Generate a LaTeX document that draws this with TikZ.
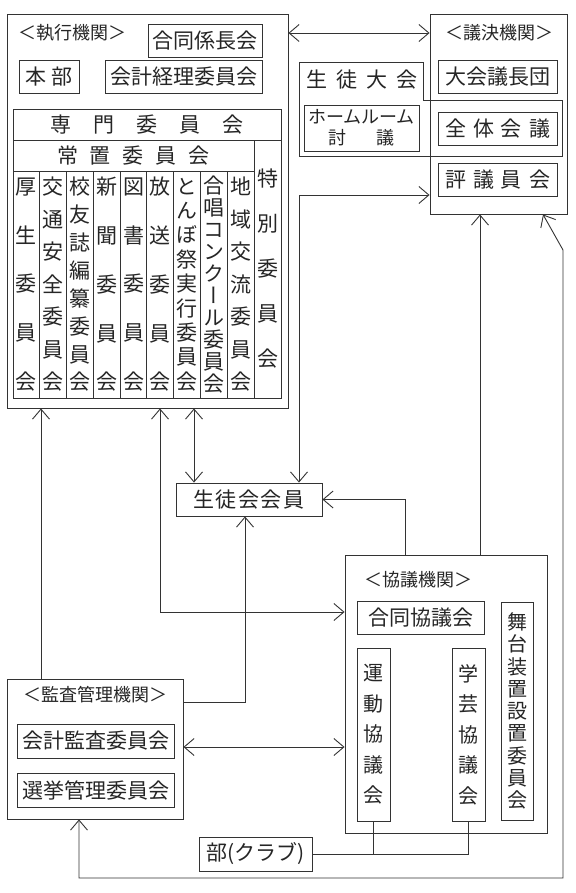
\documentclass[tikz,border=0pt]{standalone}
\usepackage{fontspec}
\newfontfamily\jp{Noto Sans CJK JP}
\newfontfamily\vjp[RawFeature=+vert]{Noto Sans CJK JP}
\usetikzlibrary{arrows.meta}
\begin{document}
\begin{tikzpicture}[x=1pt,y=-1pt,
  >={Straight Barb[length=10pt,width=17pt]},
  box/.style={draw=black!80,line width=0.9pt,inner sep=0pt,rectangle},
  txt/.style={font=\jp\fontsize{21}{25}\selectfont,text=black!85},
  ttl/.style={font=\jp\fontsize{18}{21}\selectfont,text=black!85},
  vt/.style={align=center,font=\vjp\fontsize{21}{#1}\selectfont,text=black!85},
  vs/.style={align=center,font=\vjp\fontsize{20}{#1}\selectfont,text=black!85},
  wire/.style={draw=black!80,line width=0.9pt}]
\useasboundingbox (0,0) rectangle (575,893);
\fill[white] (0,0) rectangle (575,893);

% ---- executive body
\node[box,minimum width=281,minimum height=394] (exec) at (147.5,211) {};
\node[ttl] (execT) at (72,33) {＜執行機関＞};
\node[box,txt,minimum width=114,minimum height=33] (kakari) at (205,40.5) {合同係長会};
\node[box,txt,minimum width=60,minimum height=33] (honbu) at (49,76.5) {本\hspace{6pt}部};
\node[box,txt,minimum width=157,minimum height=33] (keiri) at (183.5,76.5) {会計経理委員会};
\node[box,txt,minimum width=268,minimum height=31] (senmon) at (147,124.5) {専\hspace{22pt}門\hspace{22pt}委\hspace{22pt}員\hspace{22pt}会};
\node[box,txt,minimum width=241,minimum height=31] (jouchi) at (133.5,155.5) {常\hspace{12pt}置\hspace{12pt}委\hspace{12pt}員\hspace{12pt}会};
\node[box,vt=45,minimum width=27,minimum height=258] (tokubetsu) at (267.5,269) {特\\別\\委\\員\\会};
\node[box,vt=48.75,minimum width=26.78,minimum height=227] (c1) at (26.39,284.5) {厚\\生\\委\\員\\会};
\node[box,vt=32.5,minimum width=26.78,minimum height=227] (c2) at (53.17,284.5) {交\\通\\安\\全\\委\\員\\会};
\node[box,vt=27.86,minimum width=26.78,minimum height=227] (c3) at (79.94,284.5) {校\\友\\誌\\編\\纂\\委\\員\\会};
\node[box,vt=48.75,minimum width=26.78,minimum height=227] (c4) at (106.72,284.5) {新\\聞\\委\\員\\会};
\node[box,vt=48.75,minimum width=26.78,minimum height=227] (c5) at (133.5,284.5) {図\\書\\委\\員\\会};
\node[box,vt=48.75,minimum width=26.78,minimum height=227] (c6) at (160.28,284.5) {放\\送\\委\\員\\会};
\node[box,vt=24.4,minimum width=26.78,minimum height=227] (c7) at (187.06,284.5) {と\\ん\\ぼ\\祭\\実\\行\\委\\員\\会};
\node[box,vt=22,minimum width=26.78,minimum height=227] (c8) at (213.83,284.5) {合\\唱\\コ\\ン\\ク\\ー\\ル\\委\\員\\会};
\node[box,vt=32.5,minimum width=26.78,minimum height=227] (c9) at (240.61,284.5) {地\\域\\交\\流\\委\\員\\会};

% ---- resolution body
\node[box,minimum width=137,minimum height=200] (giketsu) at (498.5,114) {};
\node[ttl] (giketsuT) at (499,33) {＜議決機関＞};
\node[box,txt,minimum width=119,minimum height=33] (gichou) at (497.5,76.5) {大会議長団};
\node[box,txt,minimum width=119,minimum height=33] (zentai) at (497.5,128.5) {全\hspace{7pt}体\hspace{7pt}会\hspace{7pt}議};
\node[box,txt,minimum width=119,minimum height=33] (hyougi) at (497.5,179.5) {評\hspace{7pt}議\hspace{7pt}員\hspace{7pt}会};
\draw[wire] (299,62) -- (423,62) -- (423,100) -- (562,100) -- (562,156) -- (299,156) -- cycle;
\node[txt] (taikai) at (362,80) {生\hspace{9pt}徒\hspace{9pt}大\hspace{9pt}会};
\node[box,ttl,align=center,minimum width=115,minimum height=46] (hr) at (361.5,128) {ホームルーム\\討\hspace{30pt}議};

% ---- members
\node[box,txt,minimum width=146,minimum height=33] (member) at (249,499.5) {生\hspace{1.5pt}徒\hspace{1.5pt}会\hspace{1.5pt}会\hspace{1.5pt}員};

% ---- consultative body
\node[box,minimum width=202,minimum height=278] (kyougi) at (446,694) {};
\node[ttl] (kyougiT) at (418,580) {＜協議機関＞};
\node[box,txt,minimum width=127,minimum height=33] (goudou) at (420.5,617.5) {合同協議会};
\node[box,vs=30.5,minimum width=33,minimum height=173] (undou) at (373.5,734.5) {運\\動\\協\\議\\会};
\node[box,vs=30.5,minimum width=33,minimum height=173] (gakugei) at (468.5,734.5) {学\\芸\\協\\議\\会};
\node[box,vs=22.25,minimum width=32,minimum height=218] (butai) at (517,711) {舞\\台\\装\\置\\設\\置\\委\\員\\会};

% ---- audit body
\node[box,minimum width=176,minimum height=140] (audit) at (95,749) {};
\node[ttl] (auditT) at (95,695) {＜監査管理機関＞};
\node[box,txt,minimum width=157,minimum height=34] (kansa) at (95.5,741) {会計監査委員会};
\node[box,txt,minimum width=157,minimum height=34] (senkyo) at (95.5,790) {選挙管理委員会};

% ---- clubs
\node[box,txt,minimum width=113,minimum height=34] (bu) at (255.5,854) {部(クラブ)};

% ---- connectors
\coordinate (p2) at (299,195);
\coordinate (p3) at (194,0);
\coordinate (p4) at (405,0);
\coordinate (p5) at (160,612);
\coordinate (p6) at (245,702);
\coordinate (p7) at (41,0);
\coordinate (p8) at (0,747);
\coordinate (p9) at (480,0);
\coordinate (p10a) at (79,878);
\coordinate (p10b) at (563,878);
\coordinate (p10c) at (563,250);
\coordinate (p10d) at (543,0);

\draw[wire,<->] (exec.east |- execT) -- (giketsu.west |- execT);
\draw[wire,<->] (member.north -| p2) |- (giketsu.west |- p2);
\draw[wire,<->] (exec.south -| p3) -- (member.north -| p3);
\draw[wire,->] (kyougi.north -| p4) |- (member.east);
\draw[wire,<->] (exec.south -| p5) |- (kyougi.west |- p5);
\draw[wire,->] (audit.east |- p6) -| (member.south -| p6);
\draw[wire,->] (audit.north -| p7) -- (exec.south -| p7);
\draw[wire,<->] (audit.east |- p8) -- (kyougi.west |- p8);
\draw[wire,->] (kyougi.north -| p9) -- (giketsu.south -| p9);
\draw[wire,<->] (audit.south -| p10a) |- (p10b) -- (p10c) -- (giketsu.south -| p10d);
\draw[wire] (bu.east) -| (gakugei.south);
\draw[wire] (undou.south) -- (undou.south |- bu.east);
\end{tikzpicture}
\end{document}
